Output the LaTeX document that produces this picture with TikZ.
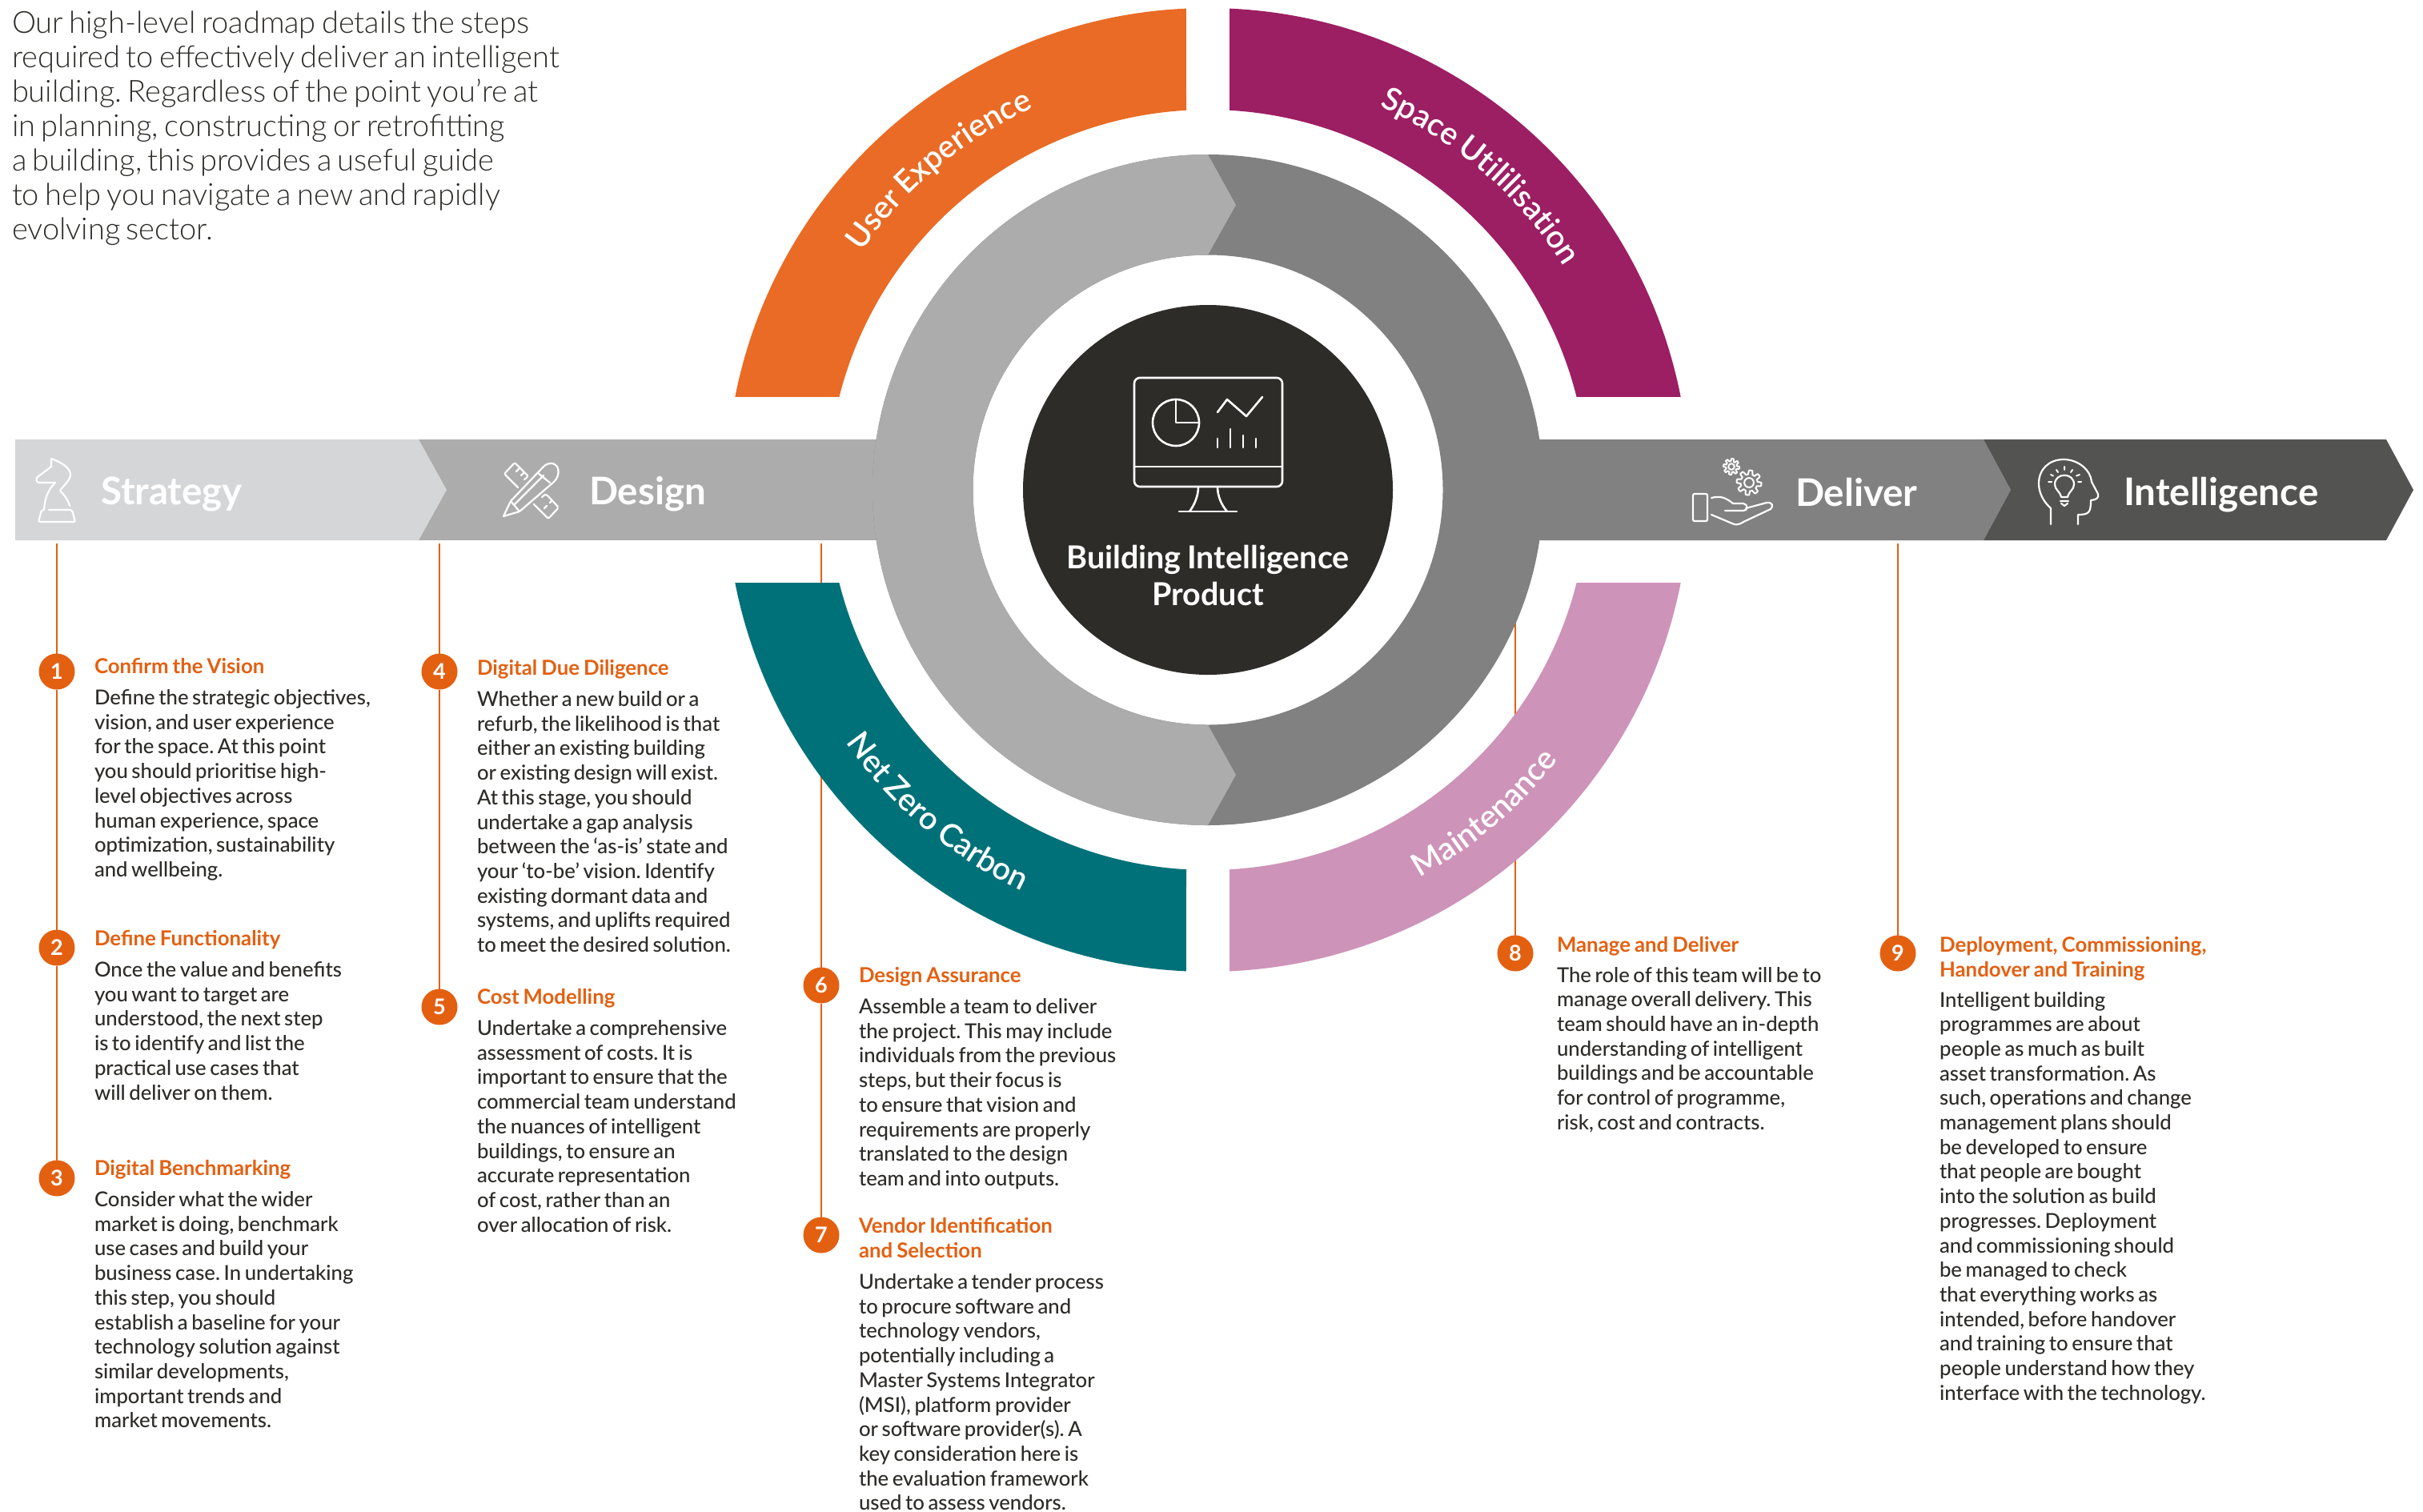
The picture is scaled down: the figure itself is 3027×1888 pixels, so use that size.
\documentclass[tikz,border=0pt]{standalone}
\usepackage{fontspec}
\usetikzlibrary{decorations.text}
\setmainfont{Lato}
\newfontfamily\latolight[WordSpace=0.7]{Lato Light}
\newfontfamily\latomed[WordSpace=0.7]{Lato Medium}
\newfontfamily\latosemi[WordSpace=0.8]{Lato Semibold}
\newfontfamily\latobold[WordSpace=0.8]{Lato Bold}
\newcommand{\introfont}{\frenchspacing\latolight\fontsize{38}{43}\selectfont}
\newcommand{\bodyfont}{\frenchspacing\latomed\fontsize{25.7}{30.7}\selectfont}
\newcommand{\headfont}{\frenchspacing\latobold\fontsize{25.8}{31}\selectfont}
\newcommand{\numfont}{\latobold\fontsize{27}{30}\selectfont}
\newcommand{\bandfont}{\latobold\fontsize{47.5}{50}\selectfont}
\newcommand{\hubfont}{\latobold\fontsize{39.5}{46}\selectfont}
\newcommand{\arcfont}{\latosemi\fontsize{39.5}{46}\selectfont}
\newcommand{\blocktext}[1]{\parbox[t]{800pt}{\raggedright #1}}
\definecolor{cstrategy}{HTML}{D5D6D7}
\definecolor{clight}{HTML}{ABACAB}
\definecolor{cdark}{HTML}{818181}
\definecolor{cintel}{HTML}{535351}
\definecolor{chub}{HTML}{2D2C29}
\definecolor{corange}{HTML}{E96B25}
\definecolor{cmagenta}{HTML}{9C1E63}
\definecolor{cteal}{HTML}{007178}
\definecolor{cpink}{HTML}{CE93B8}
\definecolor{cnum}{HTML}{E36011}
\definecolor{ctext}{HTML}{2D2C29}
\pgfdeclarelayer{under}
\pgfsetlayers{under,main}
\tikzset{
  bodytext/.style={anchor=base west,inner sep=0pt,outer sep=0pt,text=ctext,font=\bodyfont},
  headtext/.style={anchor=base west,inner sep=0pt,outer sep=0pt,text=cnum,font=\headfont},
  introtext/.style={anchor=base west,inner sep=0pt,outer sep=0pt,text=ctext,font=\introfont},
  bandtext/.style={anchor=base west,inner sep=0pt,outer sep=0pt,text=white,font=\bandfont},
  hubtext/.style={anchor=base,inner sep=0pt,outer sep=0pt,text=white,font=\hubfont},
  numdot/.style={circle,fill=cnum,minimum size=45pt,inner sep=0pt,outer sep=0pt,text=white,font=\numfont},
  stem/.style={draw=cnum,line width=2.4pt},
  icon/.style={draw=white,line width=2.6pt,line join=round,line cap=round},
  arclabel/.style={decorate,decoration={text along path,text align=center,text color=white}}
}
\newcommand{\gearicon}[3]{%
  \draw[icon,line width=2pt] plot[domain=0:360,samples=121] ({#1+#3*(0.84+0.16*max(-1,min(1,2.5*sin(8*\x+22.5))))*cos(\x)},{#2+#3*(0.84+0.16*max(-1,min(1,2.5*sin(8*\x+22.5))))*sin(\x)}) -- cycle;
  \draw[icon,line width=2pt] (#1,#2) circle[radius=0.38*#3];}
\begin{document}
\begin{tikzpicture}[x=1pt,y=-1pt]
\useasboundingbox (0,0) rectangle (3027,1888);
\begin{pgfonlayer}{under}
\fill[white] (0,0) rectangle (3027,1888);
\end{pgfonlayer}

% --- band
\fill[clight] (523,549) -- (1110,549) -- (1110,675) -- (523,675) -- cycle;
\fill[cstrategy] (19,549) -- (523,549) -- (558,612) -- (523,675) -- (19,675) -- cycle;
\fill[cdark] (1908,549) -- (2478,549) -- (2512,612) -- (2478,675) -- (1908,675) -- cycle;
\fill[cintel] (2478,549) -- (2981,549) -- (3015,612) -- (2981,675) -- (2478,675) -- (2512,612) -- cycle;

% --- rings, centred, y pointing up
\begin{scope}[shift={(1509,612)},x=1pt,y=1pt]
  \fill[cdark,even odd rule] (0,0) circle[radius=419] (0,0) circle[radius=293.5];
  \fill[clight] (0,419) arc[start angle=90,end angle=270,radius=419]
     -- (35,-356) -- (0,-293.5) arc[start angle=270,end angle=90,radius=293.5]
     -- (35,356) -- cycle;
  \fill[chub] (0,0) circle[radius=231];
  \fill[corange] (168.88:602) arc[start angle=168.88,end angle=92.58,radius=602]
     -- (93.26:475) arc[start angle=93.26,end angle=165.85,radius=475] -- cycle;
  \fill[cmagenta] (11.12:602) arc[start angle=11.12,end angle=87.42,radius=602]
     -- (86.74:475) arc[start angle=86.74,end angle=14.15,radius=475] -- cycle;
  \fill[cteal] (191.12:602) arc[start angle=191.12,end angle=267.42,radius=602]
     -- (266.74:475) arc[start angle=266.74,end angle=194.15,radius=475] -- cycle;
  \fill[cpink] (348.88:602) arc[start angle=348.88,end angle=272.58,radius=602]
     -- (273.26:475) arc[start angle=273.26,end angle=345.85,radius=475] -- cycle;
  \path[arclabel,decoration={text={|\arcfont|User Experience}}]
     (146:525) arc[start angle=146,end angle=114,radius=525];
  \path[arclabel,decoration={text={|\arcfont|Space Utililisation}}]
     (67:525) arc[start angle=67,end angle=31,radius=525];
  \path[arclabel,decoration={text={|\arcfont|Net Zero Carbon}}]
     (214:552) arc[start angle=214,end angle=246,radius=552];
  \path[arclabel,decoration={text={|\arcfont|Maintenance}}]
     (298:552) arc[start angle=298,end angle=323,radius=552];
\end{scope}

% --- hub icon and label
\draw[icon,rounded corners=7pt] (1417,472) rectangle (1602,608);
\draw[icon] (1417,583) -- (1602,583);
\draw[icon] (1469,528) circle[radius=29];
\draw[icon] (1469,499) -- (1469,528) -- (1498,528);
\draw[icon] (1521,515) -- (1533,499) -- (1557,520) -- (1577,496);
\draw[icon] (1521,548) -- (1521,559) (1537,536) -- (1537,559) (1553,544) -- (1553,559) (1569,548) -- (1569,559);
\draw[icon] (1497,608) .. controls (1497,620) and (1492,631) .. (1486,639);
\draw[icon] (1521,608) .. controls (1521,620) and (1526,631) .. (1533,639);
\draw[icon] (1473,639) -- (1545,639);
\node[hubtext] (hub1) at (1509,710) {Building Intelligence};
\node[hubtext] (hub2) at (1509,756) {Product};

% --- knight
\draw[icon,line width=2.2pt] (55,637) .. controls (56,622) and (60,612) .. (69,603) -- (49,603) .. controls (45,603) and (44,597) .. (48,595) -- (64,583) -- (64,573) .. controls (78,578) and (88,585) .. (88,593) .. controls (88,600) and (78,608) .. (75,613) .. controls (80,618) and (85,624) .. (87,632);
\draw[icon,line width=2.2pt,rounded corners=2pt] (61,637) -- (90,637) -- (94,652) -- (48,652) -- (52,637) -- (55,637);
% --- pencil and ruler
\draw[icon,line width=2.2pt] (629,645) -- (638,626) -- (678,584) .. controls (684,577) and (694,577) .. (697,585) .. controls (699,592) and (696,598) .. (692,602) -- (649,639) -- cycle;
\draw[icon,line width=2.2pt] (672,591) -- (687,603) (642,631) -- (679,594) (638,626) -- (649,639);
\draw[icon,line width=2.2pt,rounded corners=2pt] (647,609) -- (630,592) -- (643,578) -- (660,595) -- (655,599);
\draw[icon,line width=2.2pt] (645,589) -- (648,586) (651,594) -- (654,591);
\draw[icon,line width=2.2pt,rounded corners=2pt] (667,630) -- (685,648) -- (698,634) -- (682,617) -- (677,621);
\draw[icon,line width=2.2pt] (687,628) -- (690,625) (680,635) -- (683,632);
% --- hand and gears
\draw[icon,line width=2.2pt,rounded corners=2pt] (2115,617) rectangle (2133,651);
\draw[icon,line width=2.2pt] (2138,622) .. controls (2150,619) and (2156,622) .. (2165,629) -- (2178,629) .. controls (2184,630) and (2184,638) .. (2178,638) -- (2155,638);
\draw[icon,line width=2.2pt] (2181,635) -- (2207,628) .. controls (2214,627) and (2216,632) .. (2212,636) -- (2178,652) .. controls (2172,656) and (2168,656) .. (2164,654) -- (2138,643);
\gearicon{2163}{583}{10}
\gearicon{2185}{603}{15.5}
% --- head and bulb
\draw[icon,line width=2.2pt] (2562,655) -- (2562,635) .. controls (2552,626) and (2547,615) .. (2547,604) .. controls (2547,586) and (2560,574) .. (2578,574) .. controls (2597,574) and (2612,588) .. (2613,602) -- (2621,617) .. controls (2622,622) and (2620,624) .. (2612,625) .. controls (2612,640) and (2610,643) .. (2596,643) -- (2596,655);
\draw[icon,line width=2.2pt] (2575,621) .. controls (2573,613) and (2567,612) .. (2567,605) .. controls (2567,590) and (2591,590) .. (2591,605) .. controls (2591,612) and (2585,613) .. (2583,621) -- cycle;
\draw[icon,line width=2.2pt] (2574,626) -- (2584,626) (2575,629) -- (2579,632) -- (2583,629);
\draw[icon,line width=2pt] (2579,583) -- (2579,587) (2569,587) -- (2571,590) (2589,587) -- (2587,590) (2562,593) -- (2565,594.5) (2598,593) -- (2594,594.5) (2559,602) -- (2563,602) (2596,602) -- (2600,602);

% --- band labels
\node[bandtext] (strategy) at (126,630) {Strategy};
\node[bandtext] (design) at (736,630) {Design};
\node[bandtext] (deliver) at (2243,632) {Deliver};
\node[bandtext] (intelligence) at (2653,631) {Intelligence};

% --- intro
\node[introtext] (intro) at (15,41.5) {\blocktext{Our high-level roadmap details the steps\\required to effectively deliver an intelligent\\building. Regardless of the point you’re at\\in planning, constructing or retrofitting\\a building, this provides a useful guide\\to help you navigate a new and rapidly\\evolving sector.}};

% --- numbered markers
\node[numdot] (n1) at (71,839) {1};
\node[numdot] (n2) at (71,1184) {2};
\node[numdot] (n3) at (71,1472) {3};
\node[numdot] (n4) at (549,839) {4};
\node[numdot] (n5) at (549,1258) {5};
\node[numdot] (n6) at (1026,1231) {6};
\node[numdot] (n7) at (1026,1543) {7};
\node[numdot] (n8) at (1893,1191) {8};
\node[numdot] (n9) at (2371,1191) {9};
\coordinate (s1) at (71,679);
\coordinate (s4) at (549,679);
\coordinate (s6) at (1026,679);
\coordinate (s8) at (1893,679);
\coordinate (s9) at (2371,679);
\begin{pgfonlayer}{under}
\draw[stem] (s1) -- (n1);
\draw[stem] (n1) -- (n2);
\draw[stem] (n2) -- (n3);
\draw[stem] (s4) -- (n4);
\draw[stem] (n4) -- (n5);
\draw[stem] (s6) -- (n6);
\draw[stem] (n6) -- (n7);
\draw[stem] (s8) -- (n8);
\draw[stem] (s9) -- (n9);
\end{pgfonlayer}

% --- step texts
\node[headtext] (h1) at (118,841) {\blocktext{Confirm the Vision}};
\node[bodytext] (b1) at (118,880.5) {\blocktext{Define the strategic objectives,\\vision, and user experience\\for the space. At this point\\you should prioritise high-\\level objectives across\\human experience, space\\optimization, sustainability\\and wellbeing.}};
\node[headtext] (h2) at (118,1181) {\blocktext{Define Functionality}};
\node[bodytext] (b2) at (118,1220.5) {\blocktext{Once the value and benefits\\you want to target are\\understood, the next step\\is to identify and list the\\practical use cases that\\will deliver on them.}};
\node[headtext] (h3) at (118,1468) {\blocktext{Digital Benchmarking}};
\node[bodytext] (b3) at (118,1507.5) {\blocktext{Consider what the wider\\market is doing, benchmark\\use cases and build your\\business case. In undertaking\\this step, you should\\establish a baseline for your\\technology solution against\\similar developments,\\important trends and\\market movements.}};
\node[headtext] (h4) at (596,843) {\blocktext{Digital Due Diligence}};
\node[bodytext] (b4) at (596,882.5) {\blocktext{Whether a new build or a\\refurb, the likelihood is that\\either an existing building\\or existing design will exist.\\At this stage, you should\\undertake a gap analysis\\between the ‘as-is’ state and\\your ‘to-be’ vision. Identify\\existing dormant data and\\systems, and uplifts required\\to meet the desired solution.}};
\node[headtext] (h5) at (596,1254) {\blocktext{Cost Modelling}};
\node[bodytext] (b5) at (596,1293.5) {\blocktext{Undertake a comprehensive\\assessment of costs. It is\\important to ensure that the\\commercial team understand\\the nuances of intelligent\\buildings, to ensure an\\accurate representation\\of cost, rather than an\\over allocation of risk.}};
\node[headtext] (h6) at (1073,1227) {\blocktext{Design Assurance}};
\node[bodytext] (b6) at (1073,1266.5) {\blocktext{Assemble a team to deliver\\the project. This may include\\individuals from the previous\\steps, but their focus is\\to ensure that vision and\\requirements are properly\\translated to the design\\team and into outputs.}};
\node[headtext] (h7) at (1073,1540) {\blocktext{Vendor Identification\\and Selection}};
\node[bodytext] (b7) at (1073,1610.5) {\blocktext{Undertake a tender process\\to procure software and\\technology vendors,\\potentially including a\\Master Systems Integrator\\(MSI), platform provider\\or software provider(s). A\\key consideration here is\\the evaluation framework\\used to assess vendors.}};
\node[headtext] (h8) at (1945,1189) {\blocktext{Manage and Deliver}};
\node[bodytext] (b8) at (1945,1227) {\blocktext{The role of this team will be to\\manage overall delivery. This\\team should have an in-depth\\understanding of intelligent\\buildings and be accountable\\for control of programme,\\risk, cost and contracts.}};
\node[headtext] (h9) at (2423,1189) {\blocktext{Deployment, Commissioning,\\Handover and Training}};
\node[bodytext] (b9) at (2423,1258) {\blocktext{Intelligent building\\programmes are about\\people as much as built\\asset transformation. As\\such, operations and change\\management plans should\\be developed to ensure\\that people are bought\\into the solution as build\\progresses. Deployment\\and commissioning should\\be managed to check\\that everything works as\\intended, before handover\\and training to ensure that\\people understand how they\\interface with the technology.}};
\end{tikzpicture}
\end{document}
